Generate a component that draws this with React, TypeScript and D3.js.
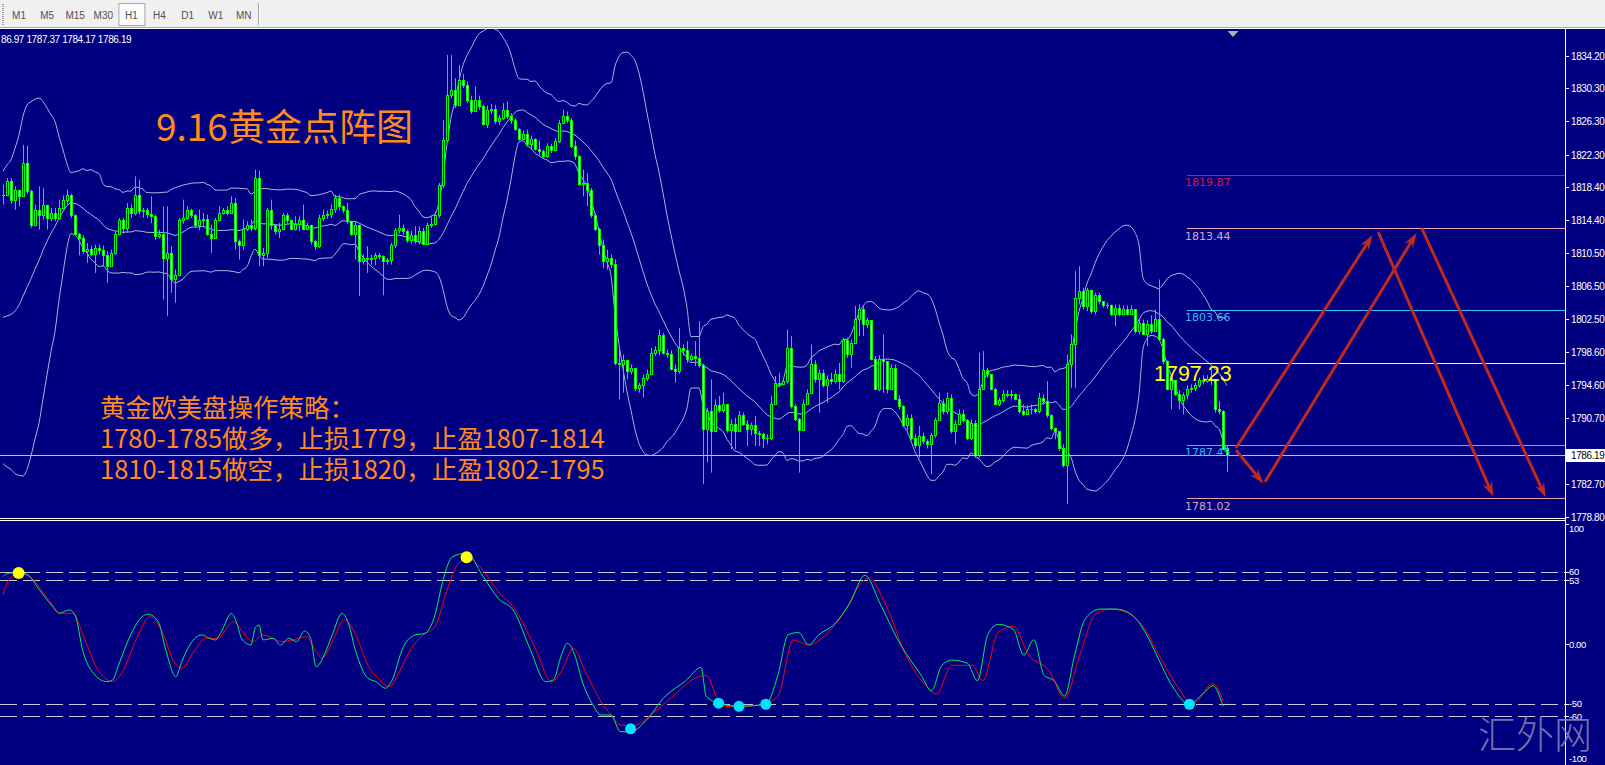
import React, { useEffect } from 'react';
import * as d3 from 'd3';

// ---------------- DATA ----------------
const timeframes = ['M1', 'M5', 'M15', 'M30', 'H1', 'H4', 'D1', 'W1', 'MN'];
const activeTimeframe = 'H1';

// closes before the first visible bar (only feed the Bollinger window)
const priorCloses = [1815.5, 1813.5, 1809.5, 1803.5, 1799.5, 1796.5, 1793.5, 1792.5, 1794.5, 1791.5, 1793.5, 1795.5, 1798.5, 1796.5, 1800.5, 1803.5, 1808.5, 1813.5, 1817.5];

const closes = [
  1817.5, 1819.1, 1816.9, 1818.1, 1817.3, 1821.3, 1817.9, 1813.8, 1815.7, 1815.1,
  1816.3, 1814.7, 1815.3, 1814.7, 1815.9, 1816.8, 1817.4, 1815.0, 1812.8, 1812.3,
  1810.7, 1811.0, 1810.4, 1811.1, 1810.8, 1810.2, 1808.9, 1810.5, 1812.8, 1814.4,
  1813.5, 1815.9, 1815.3, 1817.5, 1815.5, 1815.6, 1815.2, 1814.9, 1812.5, 1812.8,
  1809.9, 1810.5, 1807.4, 1807.9, 1814.4, 1814.7, 1815.6, 1815.1, 1813.8, 1814.4,
  1814.6, 1812.8, 1812.3, 1814.4, 1815.3, 1815.6, 1815.3, 1816.5, 1811.9, 1811.4,
  1813.4, 1813.8, 1813.5, 1819.5, 1810.2, 1810.5, 1815.6, 1813.8, 1813.1, 1813.4,
  1815.0, 1814.5, 1813.4, 1814.0, 1814.4, 1813.4, 1813.8, 1811.9, 1811.3, 1814.7,
  1815.0, 1815.2, 1815.8, 1817.1, 1816.1, 1815.7, 1814.3, 1812.8, 1813.9, 1809.5,
  1809.9, 1809.8, 1809.9, 1810.2, 1810.1, 1809.5, 1809.6, 1811.4, 1813.2, 1813.5,
  1813.1, 1812.0, 1812.7, 1811.9, 1813.1, 1811.6, 1813.8, 1814.0, 1815.0, 1818.7,
  1824.1, 1829.5, 1830.1, 1828.3, 1831.3, 1830.7, 1828.9, 1827.5, 1828.9, 1828.2,
  1826.0, 1827.7, 1827.8, 1826.3, 1826.7, 1827.7, 1827.0, 1826.5, 1825.4, 1824.2,
  1824.8, 1823.6, 1824.2, 1823.0, 1822.7, 1822.1, 1823.4, 1822.9, 1824.0, 1826.1,
  1826.9, 1826.5, 1823.4, 1822.1, 1818.8, 1818.9, 1818.1, 1815.0, 1813.4, 1811.5,
  1809.5, 1809.9, 1809.2, 1797.3, 1797.1, 1797.6, 1796.3, 1796.7, 1794.3, 1794.6,
  1795.5, 1796.0, 1798.5, 1798.8, 1800.6, 1798.5, 1798.3, 1796.6, 1796.3, 1799.1,
  1798.8, 1797.7, 1798.1, 1797.9, 1797.0, 1789.3, 1791.5, 1789.1, 1792.2, 1791.6,
  1792.3, 1789.2, 1789.9, 1789.1, 1791.0, 1790.0, 1789.3, 1789.8, 1788.8, 1788.7,
  1788.2, 1788.3, 1792.4, 1794.9, 1794.8, 1795.1, 1799.1, 1792.1, 1790.6, 1789.2,
  1792.4, 1793.7, 1797.2, 1795.3, 1796.1, 1794.6, 1795.4, 1795.1, 1796.0, 1795.1,
  1800.0, 1798.3, 1799.7, 1802.6, 1803.7, 1802.0, 1802.4, 1797.8, 1794.2, 1797.7,
  1797.5, 1794.1, 1796.7, 1793.0, 1792.1, 1789.8, 1790.7, 1788.2, 1787.4, 1788.5,
  1787.9, 1787.5, 1788.6, 1790.4, 1792.5, 1791.5, 1793.1, 1789.1, 1790.0, 1791.2,
  1790.4, 1788.2, 1790.1, 1786.2, 1794.2, 1796.4, 1795.9, 1794.2, 1792.4, 1792.8,
  1793.6, 1793.4, 1793.6, 1793.0, 1791.5, 1791.2, 1791.8, 1791.7, 1791.5, 1793.1,
  1792.7, 1791.0, 1789.4, 1789.1, 1787.0, 1785.0, 1797.2, 1799.5, 1805.1, 1805.9,
  1804.1, 1806.0, 1803.5, 1805.4, 1804.7, 1804.2, 1804.3, 1803.2, 1803.9, 1803.2,
  1803.8, 1803.2, 1803.7, 1801.1, 1802.1, 1800.8, 1802.0, 1801.1, 1802.6, 1800.1,
  1797.5, 1794.2, 1795.2, 1793.6, 1792.8, 1793.4, 1794.2, 1794.3, 1794.6, 1795.2,
  1795.1, 1795.4, 1795.3, 1791.8, 1791.5, 1786.97, 1786.19,
];

const highs = [
  1818.7, 1819.5, 1819.5, 1818.5, 1817.9, 1823.5, 1823.4, 1818.1, 1816.3, 1818.5,
  1818.3, 1816.3, 1815.9, 1815.9, 1816.9, 1817.4, 1818.1, 1817.6, 1815.1, 1812.9,
  1812.6, 1811.7, 1811.4, 1811.5, 1811.5, 1811.4, 1810.7, 1810.9, 1813.1, 1814.7,
  1814.7, 1816.5, 1816.3, 1819.7, 1819.3, 1815.9, 1815.9, 1817.3, 1815.1, 1813.3,
  1816.1, 1816.1, 1811.3, 1808.5, 1814.7, 1816.9, 1816.1, 1815.8, 1815.2, 1815.7,
  1815.3, 1815.1, 1813.9, 1814.7, 1816.1, 1815.9, 1816.1, 1817.3, 1817.1, 1812.1,
  1814.5, 1814.3, 1814.5, 1820.5, 1820.4, 1811.1, 1815.9, 1816.9, 1813.9, 1814.1,
  1815.3, 1815.3, 1814.5, 1814.9, 1814.9, 1816.3, 1814.1, 1813.9, 1812.1, 1815.1,
  1815.7, 1815.6, 1816.3, 1817.5, 1817.5, 1816.2, 1816.5, 1814.4, 1814.3, 1813.3,
  1810.3, 1811.3, 1810.3, 1810.5, 1810.5, 1810.2, 1809.9, 1811.7, 1813.5, 1815.1,
  1813.9, 1813.3, 1813.2, 1813.7, 1813.7, 1813.5, 1814.1, 1814.9, 1815.5, 1818.9,
  1826.5, 1834.3, 1834.3, 1831.5, 1833.1, 1832.0, 1831.1, 1829.4, 1830.5, 1829.4,
  1828.3, 1828.2, 1828.4, 1828.3, 1827.1, 1828.5, 1828.7, 1827.3, 1826.7, 1825.5,
  1825.2, 1825.3, 1824.6, 1824.3, 1824.0, 1822.9, 1823.7, 1823.6, 1824.3, 1826.5,
  1827.7, 1827.5, 1826.7, 1824.0, 1822.2, 1820.5, 1820.1, 1818.3, 1815.3, 1813.5,
  1812.1, 1810.9, 1810.3, 1809.7, 1798.9, 1798.3, 1797.3, 1797.1, 1796.7, 1794.9,
  1795.9, 1796.5, 1799.1, 1799.3, 1801.3, 1800.9, 1798.9, 1798.8, 1797.1, 1801.5,
  1799.5, 1799.9, 1798.4, 1799.9, 1802.3, 1797.2, 1791.9, 1795.3, 1792.9, 1793.3,
  1793.7, 1791.7, 1790.5, 1790.7, 1791.5, 1791.3, 1790.4, 1790.1, 1790.9, 1789.1,
  1788.9, 1788.7, 1793.3, 1795.7, 1796.1, 1795.4, 1801.3, 1800.5, 1792.3, 1790.7,
  1792.9, 1794.1, 1799.5, 1797.6, 1796.5, 1796.5, 1795.8, 1796.1, 1796.5, 1797.3,
  1800.3, 1800.3, 1800.1, 1804.1, 1804.3, 1804.2, 1802.7, 1802.4, 1798.1, 1798.2,
  1800.7, 1795.5, 1797.1, 1797.1, 1793.4, 1792.2, 1791.1, 1791.1, 1788.7, 1789.7,
  1788.9, 1788.1, 1788.9, 1790.7, 1793.7, 1792.9, 1793.7, 1793.5, 1790.4, 1791.7,
  1791.6, 1790.5, 1790.5, 1790.4, 1798.5, 1798.7, 1796.7, 1795.9, 1794.3, 1793.1,
  1794.0, 1794.0, 1794.0, 1793.5, 1793.5, 1792.3, 1792.2, 1792.3, 1791.9, 1793.7,
  1793.5, 1795.1, 1791.1, 1789.5, 1788.3, 1787.5, 1798.3, 1800.7, 1808.3, 1808.9,
  1806.3, 1806.3, 1806.1, 1805.7, 1805.7, 1804.5, 1804.5, 1804.3, 1804.3, 1804.3,
  1804.2, 1804.2, 1804.2, 1803.7, 1802.5, 1802.5, 1802.4, 1803.0, 1803.7, 1807.3,
  1800.3, 1797.6, 1795.5, 1794.6, 1794.0, 1793.7, 1794.6, 1794.7, 1794.9, 1795.5,
  1795.8, 1795.8, 1796.5, 1794.7, 1792.7, 1791.6, 1787.37,
];

const lows = [
  1816.3, 1817.5, 1816.4, 1815.7, 1816.1, 1817.5, 1817.6, 1813.5, 1813.7, 1813.3,
  1814.5, 1813.3, 1814.3, 1814.3, 1814.5, 1815.7, 1816.3, 1814.7, 1812.6, 1810.2,
  1810.4, 1809.3, 1810.1, 1808.1, 1810.3, 1808.9, 1806.9, 1809.7, 1810.3, 1812.6,
  1812.8, 1812.9, 1814.7, 1815.0, 1815.1, 1814.7, 1814.7, 1814.1, 1812.1, 1812.2,
  1804.9, 1802.9, 1805.7, 1804.5, 1807.8, 1814.0, 1814.5, 1814.7, 1813.5, 1813.2,
  1813.7, 1812.6, 1810.5, 1812.3, 1814.3, 1815.1, 1815.0, 1815.2, 1810.9, 1809.7,
  1810.9, 1813.1, 1813.1, 1813.2, 1808.9, 1808.9, 1809.9, 1813.3, 1812.7, 1812.3,
  1813.3, 1814.0, 1813.2, 1813.2, 1813.1, 1813.2, 1813.3, 1811.5, 1810.9, 1811.1,
  1814.3, 1814.6, 1814.7, 1815.3, 1815.6, 1815.3, 1814.0, 1812.6, 1809.7, 1805.3,
  1809.1, 1808.1, 1809.1, 1809.0, 1809.7, 1805.4, 1809.1, 1809.1, 1811.1, 1812.8,
  1812.7, 1811.7, 1811.6, 1811.6, 1811.5, 1811.4, 1811.6, 1813.5, 1813.8, 1814.7,
  1818.3, 1823.9, 1829.1, 1827.9, 1829.4, 1830.3, 1828.5, 1827.2, 1828.1, 1827.7,
  1825.8, 1825.5, 1827.2, 1826.0, 1825.9, 1826.5, 1826.6, 1826.0, 1825.2, 1824.0,
  1824.1, 1823.3, 1822.9, 1822.8, 1822.3, 1821.8, 1821.9, 1822.5, 1822.7, 1823.7,
  1826.0, 1826.1, 1823.1, 1821.7, 1818.6, 1817.3, 1816.1, 1814.7, 1813.1, 1810.3,
  1808.7, 1808.5, 1808.7, 1797.0, 1792.9, 1793.7, 1795.3, 1795.9, 1793.9, 1793.7,
  1793.1, 1795.1, 1795.8, 1798.1, 1798.2, 1798.3, 1797.9, 1796.4, 1794.9, 1796.0,
  1798.2, 1797.3, 1797.5, 1796.9, 1796.7, 1782.7, 1785.3, 1784.1, 1791.1, 1791.3,
  1791.3, 1788.9, 1786.9, 1786.9, 1789.9, 1789.7, 1787.3, 1788.6, 1787.3, 1787.3,
  1787.1, 1787.5, 1788.0, 1792.4, 1794.5, 1794.6, 1794.8, 1791.8, 1790.3, 1784.1,
  1789.1, 1792.3, 1793.6, 1794.9, 1791.3, 1794.3, 1792.5, 1794.7, 1794.8, 1794.1,
  1794.9, 1797.9, 1796.7, 1799.6, 1800.5, 1800.5, 1801.5, 1797.6, 1794.0, 1793.9,
  1793.7, 1793.6, 1794.7, 1792.8, 1791.7, 1789.5, 1789.2, 1788.0, 1787.0, 1785.9,
  1787.5, 1787.0, 1783.9, 1788.3, 1790.4, 1791.1, 1791.1, 1788.8, 1787.5, 1790.0,
  1790.1, 1788.0, 1788.0, 1785.9, 1785.9, 1794.2, 1795.5, 1794.0, 1792.2, 1792.1,
  1792.5, 1793.1, 1792.9, 1792.8, 1791.2, 1790.9, 1791.1, 1791.1, 1791.2, 1791.2,
  1792.3, 1790.7, 1789.2, 1788.1, 1786.7, 1784.7, 1780.3, 1794.3, 1794.3, 1804.3,
  1803.7, 1803.5, 1803.2, 1803.1, 1804.3, 1803.9, 1803.8, 1802.9, 1801.7, 1802.9,
  1803.0, 1803.0, 1803.1, 1800.8, 1800.7, 1800.6, 1799.3, 1800.8, 1801.7, 1799.9,
  1797.1, 1794.0, 1791.7, 1793.3, 1791.7, 1791.1, 1792.9, 1793.7, 1793.9, 1794.3,
  1794.7, 1794.9, 1794.6, 1791.3, 1791.1, 1787.1, 1784.17,
];

const priceTicks = [1834.2, 1830.3, 1826.3, 1822.3, 1818.4, 1814.4, 1810.5, 1806.5, 1802.5, 1798.6, 1794.6, 1790.7, 1786.7, 1782.7, 1778.8];

// horizontal levels drawn on the chart
const levelPrices = [1819.87, 1813.44, 1803.66, 1797.23, 1787.45, 1781.02];
const levelStartBar = 296;

// trend arrows (bar index / price)
const arrowFromBar = [308.25, 308.25, 315.5, 343.8, 354.7];
const arrowFromPrice = [1786.8, 1787.05, 1783.0, 1813.0, 1813.45];
const arrowToBar = [315.1, 342.4, 353.4, 372.6, 385.7];
const arrowToPrice = [1782.8, 1812.65, 1812.9, 1781.2, 1781.1];

// oscillator
const oscTicks = [100, 60, 53, 0, -50, -60, -100];
const oscTickLabels = ['100', '60', '53', '0.00', '-50', '-60', '-100'];
const oscLevels = [60, 53, -50, -60];
const mainBar = [0, 1.2, 3.9, 6.2, 9.1, 12.1, 14.1, 16.5, 18, 20, 23, 25.9, 27.4, 28.9, 31.9, 34.8, 36.3, 38.8, 40.8, 43.2, 44.7, 46.7, 49.7, 51.6, 53.1, 54.6, 57.1, 58.6, 59.6, 62, 63, 64, 65, 67.5, 69.4, 71.4, 73.4, 75.4, 76.9, 78.3, 80.3, 82.3, 84.8, 86.2, 88.2, 91.2, 93.2, 95.6, 97.1, 100.1, 103, 105.5, 108, 109.9, 112.4, 115.9, 119.8, 123.8, 127.8, 131.7, 135.7, 137.6, 139.6, 141.1, 142.6, 145.1, 147.5, 149.5, 152, 154.3, 156.9, 160.5, 165.6, 170.7, 174.5, 175.8, 178.9, 184, 190.7, 193.7, 196.3, 198.9, 201.4, 204, 207.8, 211.6, 215.5, 219.3, 224.4, 229.6, 232.1, 234.7, 237.2, 241.1, 243.6, 246.2, 248.8, 252.6, 255.2, 257.7, 260.3, 262.8, 265.4, 267.9, 270.5, 274.3, 278.2, 282, 285.9, 288.4, 292.3, 296.6, 299.9, 302.5, 305];
const mainVal = [55.9, 58.7, 59.2, 57.3, 44.9, 32.4, 25.5, 28.3, 24.1, -6.3, -25.7, -31.2, -29.8, -17.4, 7.5, 22.7, 24.7, 18.6, -6.3, -27.1, -14.6, -0.8, 7.5, 4.7, 3.4, 10.3, 25.5, 15.8, 4.7, -0.8, 13, 15.8, 3.4, 4.7, -0.8, 4.7, 2, 10.8, 4.7, -18.8, -9.1, 7.5, 25.5, 18.6, -6.3, -28.4, -31.2, -36.7, -31.2, -2.2, 7.5, 8.9, 24.1, 51.8, 72.5, 75.3, 57.3, 37.9, 26.9, -3.6, -31.2, -29.8, -9.1, 0.6, -6.3, -34, -50.6, -58.9, -58.9, -72.7, -73, -64.4, -43.2, -30.5, -19.4, -43.2, -49.1, -51.7, -50, -26.2, 7.8, 9.5, -0.7, 7.8, 16.3, 33.3, 57, 33.3, -0.7, -26.2, -38.9, -17.7, -13.4, -16, -30.5, 7.8, 16.3, 12, -9.2, 3.5, -26.2, -30.5, -43.2, -9.2, 20.5, 29, 29, 24.7, 7.8, -9.2, -34.7, -50, -41.5, -34.7, -51.7];
const signalBar = [0, 1.2, 3.9, 7.2, 11.1, 14.6, 17.5, 20, 24, 27.4, 29.9, 33.4, 36.8, 39.8, 42.7, 44.7, 47.7, 50.7, 53.6, 57.6, 60.5, 62.5, 65, 67.5, 69.4, 72.4, 75.9, 78.3, 79.8, 82.3, 85.3, 88.2, 91.2, 94.2, 96.6, 99.1, 102.1, 105, 108, 110.9, 113.9, 116.4, 119.9, 123.8, 127.8, 132.7, 137.2, 139.6, 142.6, 145.6, 149.5, 152, 154.3, 157.4, 163, 168.1, 173.3, 175.8, 179.7, 184.8, 189.9, 193.7, 197.6, 201.4, 205.2, 209.1, 216.3, 220.6, 225.7, 230.8, 233.4, 237.2, 242.4, 244.9, 248.8, 252.6, 256.4, 261.5, 265.4, 269.2, 273.1, 276.9, 280.7, 284.6, 289.7, 293.5, 297.4, 302.5, 305];
const signalVal = [40.7, 51.8, 58.7, 54.5, 37.9, 25.5, 25.5, 7.5, -22.9, -31.2, -22.9, 4.7, 22.7, 10.3, -14.6, -20.1, -6.3, 4.7, 4.7, 18.6, 7.5, 2, 7.5, 4.7, 2, 3.4, 6.1, -6.3, -11.9, 2, 20, 7.5, -17.4, -29.8, -35.4, -22.9, -3.6, 7.5, 14.4, 43.5, 67, 71.1, 61.5, 43.5, 29.6, -0.8, -31.2, -22.9, -3.6, -22.9, -47.8, -58.9, -67.2, -68, -55.9, -41.5, -27.9, -26.2, -51.7, -51.7, -50, -43.2, 3.5, -0.7, 6.1, 20.5, 54.5, 33.3, -9.2, -34.7, -41.5, -17.7, -17.7, -30.5, 9.5, 14.6, -9.2, -22, -44.9, -9.2, 24.7, 29, 26.5, 16.3, -13.4, -34.7, -50, -33, -47.5];
const overboughtBar = [3.9, 115.9];
const overboughtVal = [59, 72];
const oversoldBar = [156.9, 178.9, 184, 190.7, 296.6];
const oversoldVal = [-70.4, -49.1, -51.7, -50, -50];

const titleText = '9.16黄金点阵图';
const strategyLines = ['黄金欧美盘操作策略：', '1780-1785做多，止损1779，止盈1807-1814', '1810-1815做空，止损1820，止盈1802-1795'];
const watermark = '汇外网';

// ---------------- STYLE ----------------
const BG = '#000080';
const AXIS_X = 1565;
const levelLineColors = ['#dc143c', '#f0a4bc', '#38c8ff', '#ffff80', '#38c8ff', '#e8a0ac'];
const levelLabelColors = ['#dc143c', '#d8a8c4', '#38b4f4', '#ffff00', '#38b4f4', '#d4a8b8'];
const AXIS_FONT = "'Liberation Sans', Arial, sans-serif";
const CJK_FONT = "'Noto Sans CJK SC', 'Noto Sans', sans-serif";

export default function App() {
  useEffect(() => {
    document.body.style.margin = '0';
    document.body.style.background = BG;
  }, []);

  const n = closes.length;
  const x = d3.scaleLinear().domain([0, n - 1]).range([3, 1227]);
  const y = d3.scaleLinear().domain([1778.8, 1834.2]).range([516.7, 55.7]);
  const yo = d3.scaleLinear().domain([-100, 100]).range([764.5, 523.5]);
  const fmt = d3.format('.2f');

  const opens = closes.map((c, i) => (i === 0 ? priorCloses[priorCloses.length - 1] : closes[i - 1]));

  // Bollinger bands (20, 2)
  const all = priorCloses.concat(closes);
  const upper: number[] = [];
  const middle: number[] = [];
  const lower: number[] = [];
  for (let i = 0; i < n; i++) {
    const win = all.slice(i + priorCloses.length - 19, i + priorCloses.length + 1);
    const m = d3.mean(win) as number;
    const sd = Math.sqrt(d3.mean(win.map((v) => (v - m) * (v - m))) as number);
    upper.push(m + 2 * sd);
    middle.push(m);
    lower.push(m - 2 * sd);
  }
  const bandLine = d3.line<number>().x((_, i) => x(i)).y((d) => y(d)).curve(d3.curveMonotoneX);

  const oscLine = (bars: number[]) =>
    d3.line<number>().x((_, i) => x(bars[i])).y((d) => yo(d)).curve(d3.curveMonotoneX);

  const lastClose = closes[n - 1];
  const lastY = Math.round(y(lastClose)) + 0.5;
  // the chart's info line is scrolled so its first two characters sit past the left edge
  const header = `${fmt(opens[n - 1])} ${fmt(highs[n - 1])} ${fmt(lows[n - 1])} ${fmt(lastClose)}`.slice(2);

  const arrows = arrowFromBar.map((b, k) => {
    const x1 = x(b), y1 = y(arrowFromPrice[k]);
    const x2 = x(arrowToBar[k]), y2 = y(arrowToPrice[k]);
    const a = Math.atan2(y2 - y1, x2 - x1);
    const ux = Math.cos(a), uy = Math.sin(a);
    const nx = -uy, ny = ux;
    const L = 15, w = 5, notch = 10;
    const head = [
      [x2, y2],
      [x2 - L * ux + w * nx, y2 - L * uy + w * ny],
      [x2 - notch * ux, y2 - notch * uy],
      [x2 - L * ux - w * nx, y2 - L * uy - w * ny],
    ];
    return { x1, y1, ex: x2 - notch * ux, ey: y2 - notch * uy, head };
  });

  const shiftX = x(n - 1) + 6;

  return (
    <svg width={1605} height={765} style={{ position: 'absolute', left: 0, top: 0, display: 'block' }}>
      <defs>
        <clipPath id="pricePanel">
          <rect x={0} y={29} width={AXIS_X} height={489} />
        </clipPath>
        <clipPath id="oscPanel">
          <rect x={0} y={521} width={AXIS_X} height={244} />
        </clipPath>
      </defs>

      {/* toolbar */}
      <rect x={0} y={0} width={1605} height={28} fill="#f0f0f0" />
      <line x1={0} x2={1605} y1={27.5} y2={27.5} stroke="#a8a8a8" />
      {d3.range(4, 25, 2).map((gy) => (
        <rect key={gy} x={2} y={gy} width={2} height={1} fill="#a0a0a0" />
      ))}
      {timeframes.map((t, k) => {
        const cx = 19 + 28.1 * k;
        return (
          <g key={t}>
            {t === activeTimeframe && (
              <rect x={cx - 12.5} y={3.5} width={26} height={22} fill="#fbfbfb" stroke="#a8a8a8" />
            )}
            <text x={cx} y={19} textAnchor="middle" fontFamily={AXIS_FONT} fontSize={10} fill="#505050">
              {t}
            </text>
          </g>
        );
      })}
      <line x1={258.5} x2={258.5} y1={3} y2={25} stroke="#a8a8a8" />
      <line x1={259.5} x2={259.5} y1={3} y2={25} stroke="#ffffff" />

      {/* chart background */}
      <rect x={0} y={28} width={1605} height={737} fill={BG} />
      <line x1={0} x2={1605} y1={28.5} y2={28.5} stroke="#ffffff" />

      {/* price panel */}
      <g clipPath="url(#pricePanel)">
        <path d={bandLine(upper) as string} fill="none" stroke="#a4b4dc" strokeWidth={1} />
        <path d={bandLine(middle) as string} fill="none" stroke="#a4b4dc" strokeWidth={1} />
        <path d={bandLine(lower) as string} fill="none" stroke="#a4b4dc" strokeWidth={1} />

        {closes.map((c, i) => {
          const o = opens[i];
          const px = Math.round(x(i));
          const hi = Math.max(highs[i], o, c);
          const lo = Math.min(lows[i], o, c);
          const top = Math.round(y(Math.max(o, c)));
          const bot = Math.round(y(Math.min(o, c)));
          const bull = c >= o;
          return (
            <g key={i}>
              <line x1={px + 0.5} x2={px + 0.5} y1={y(hi)} y2={y(lo)} stroke="#00ff00" strokeWidth={1} />
              <rect
                x={px - 0.5}
                y={top + 0.5}
                width={2}
                height={Math.max(bot - top, 0.01)}
                fill={bull ? '#000000' : '#ffffff'}
                stroke="#00ff00"
                strokeWidth={1}
              />
            </g>
          );
        })}

        {/* current price line */}
        <line x1={0} x2={AXIS_X} y1={lastY} y2={lastY} stroke="#c0c0c0" strokeWidth={1} />

        {/* level lines */}
        {levelPrices.map((p, k) => {
          const ly = Math.round(y(p)) + 0.5;
          return (
            <line key={p} x1={x(levelStartBar)} x2={AXIS_X} y1={ly} y2={ly} stroke={levelLineColors[k]} strokeWidth={1} />
          );
        })}
        {levelPrices.map((p, k) =>
          k === 3 ? (
            <text key={p} x={x(levelStartBar) - 33} y={y(p) + 18} fontFamily={AXIS_FONT} fontSize={21.5} fill={levelLabelColors[k]}>
              {fmt(p)}
            </text>
          ) : (
            <text key={p} x={x(levelStartBar) - 2} y={y(p) + 11.5} fontFamily="'DejaVu Sans', Verdana, sans-serif" fontSize={11} fill={levelLabelColors[k]}>
              {fmt(p)}
            </text>
          )
        )}

        {/* arrows */}
        {arrows.map((a, k) => (
          <g key={k}>
            <line x1={a.x1} y1={a.y1} x2={a.ex} y2={a.ey} stroke="#be2a1e" strokeWidth={3} />
            <polygon points={a.head.map((p) => p.join(',')).join(' ')} fill="#be2a1e" />
          </g>
        ))}

        {/* header */}
        <text x={1} y={42.5} fontFamily={AXIS_FONT} fontSize={10} letterSpacing={-0.4} fill="#ffffff">
          {header}
        </text>

        {/* texts */}
        <text x={156} y={141} fontFamily={CJK_FONT} fontSize={37} fill="#ff8c1a">
          {titleText}
        </text>
        {strategyLines.map((s, k) => (
          <text key={k} x={100} y={417 + 31 * k} fontFamily={CJK_FONT} fontSize={25.5} fill="#ff8c1a">
            {s}
          </text>
        ))}
      </g>

      {/* shift marker */}
      <polygon points={`${shiftX - 5.5},31 ${shiftX + 5.5},31 ${shiftX},37`} fill="#b0b0b0" />

      {/* panel borders */}
      <line x1={0} x2={AXIS_X} y1={518.5} y2={518.5} stroke="#ffffff" />
      <line x1={0} x2={AXIS_X} y1={520.5} y2={520.5} stroke="#ffffff" />
      <line x1={AXIS_X + 0.5} x2={AXIS_X + 0.5} y1={28} y2={765} stroke="#ffffff" />

      {/* price axis */}
      {priceTicks.map((p) => {
        const ty = Math.round(y(p)) + 0.5;
        const hidden = Math.abs(ty - lastY) < 12;
        return (
          <g key={p}>
            <line x1={AXIS_X} x2={AXIS_X + 4} y1={ty} y2={ty} stroke="#ffffff" />
            {!hidden && (
              <text x={AXIS_X + 6} y={ty + 3.5} fontFamily={AXIS_FONT} fontSize={10} letterSpacing={-0.4} fill="#ffffff">
                {fmt(p)}
              </text>
            )}
          </g>
        );
      })}
      <rect x={AXIS_X + 1} y={lastY - 6.5} width={40} height={13} fill="#ffffff" />
      <text x={AXIS_X + 6} y={lastY + 3.5} fontFamily={AXIS_FONT} fontSize={10} letterSpacing={-0.4} fill="#000000">
        {fmt(lastClose)}
      </text>

      {/* oscillator panel */}
      <g clipPath="url(#oscPanel)">
        {oscLevels.map((v) => (
          <line key={v} x1={0} x2={AXIS_X} y1={Math.round(yo(v)) + 0.5} y2={Math.round(yo(v)) + 0.5} stroke="#c8c8d8" strokeDasharray="17,6" />
        ))}
        <path d={oscLine(signalBar)(signalVal) as string} fill="none" stroke="#ff0000" strokeWidth={1} />
        <path d={oscLine(mainBar)(mainVal) as string} fill="none" stroke="#00f060" strokeWidth={1} />
        {overboughtBar.map((b, k) => (
          <circle key={b} cx={x(b)} cy={yo(overboughtVal[k])} r={6} fill="#ffff00" />
        ))}
        {oversoldBar.map((b, k) => (
          <circle key={b} cx={x(b)} cy={yo(oversoldVal[k])} r={5.5} fill="#00e5ff" />
        ))}
      </g>
      {oscTicks.map((v, k) => {
        const ty = yo(v);
        const off = v === 100 ? 4.8 : v === -100 ? -6 : v === -60 ? 0.5 : v === -50 ? -1 : 0;
        return (
          <g key={v}>
            <line x1={AXIS_X} x2={AXIS_X + 4} y1={Math.round(ty) + 0.5} y2={Math.round(ty) + 0.5} stroke="#ffffff" />
            <text x={AXIS_X + 4} y={ty + off + 3.5} fontFamily={AXIS_FONT} fontSize={9.5} letterSpacing={-0.4} fill="#ffffff">
              {oscTickLabels[k]}
            </text>
          </g>
        );
      })}

      {/* watermark */}
      <text x={1478} y={748} fontFamily={CJK_FONT} fontWeight={300} fontSize={38} fill="#8484b4" opacity={0.85}>
        {watermark}
      </text>
    </svg>
  );
}
